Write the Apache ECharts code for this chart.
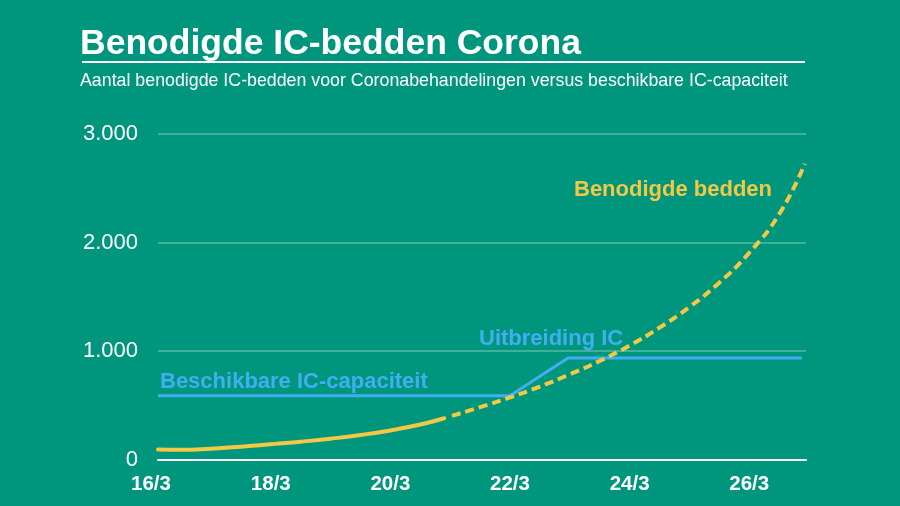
<!DOCTYPE html>
<html>
<head>
<meta charset="utf-8">
<style>
    html, body { margin: 0; padding: 0; background: #00967d; }
    #chartDiv { width: 900px; height: 506px; }
</style>
<script src="https://cdn.jsdelivr.net/npm/echarts@6/dist/echarts.min.js"></script>
</head>
<body>
<div id="chartDiv"></div>
<script>
// Chart data, x is the day of March
const FIRST_DAY = 16.114;
const LAST_DAY = 26.95;
const tickDays = [FIRST_DAY, 18, 20, 22, 24, 26];
const tickLabels = ['16/3', '18/3', '20/3', '22/3', '24/3', '26/3'];

const neededSolid = [[16.114, 92], [16.5, 90], [17, 100], [17.5, 118], [18, 140], [18.5, 164], [19, 192], [19.5, 226], [20, 268], [20.5, 322], [20.9, 380]];
const neededDashed = [[21.03, 402], [21.5, 482], [22, 572], [22.5, 672], [23, 785], [23.5, 908], [24, 1050], [24.5, 1215], [25, 1405], [25.5, 1630], [26, 1905], [26.5, 2260], [26.93, 2725]];
const capacity = [[16.114, 588], [22, 588], [22.97, 935], [26.88, 935]];

const COLORS = { bg: '#00967d', white: '#ffffff', grid: '#3fb19b', yellow: '#f2c845', blue: '#42aef2' };
const FONT = '"Liberation Sans", Arial, sans-serif';

function renderChart() {
    const myChart = echarts.init(document.getElementById('chartDiv'), null, { renderer: 'canvas' });

    const option = {
        backgroundColor: COLORS.bg,
        animation: false,
        textStyle: { fontFamily: FONT },
        title: [
            {
                text: 'Benodigde IC-bedden Corona',
                left: 80, top: 26, padding: 0,
                textStyle: { color: COLORS.white, fontSize: 35.5, fontWeight: 'bold', fontFamily: FONT }
            },
            {
                text: 'Aantal benodigde IC-bedden voor Coronabehandelingen versus beschikbare IC-capaciteit',
                left: 80, top: 72, padding: 0,
                textStyle: { color: COLORS.white, fontSize: 17.8, fontWeight: 'normal', fontFamily: FONT }
            }
        ],
        grid: { left: 158, right: 94, top: 134, bottom: 46.5 },
        xAxis: {
            type: 'value',
            min: FIRST_DAY,
            max: LAST_DAY,
            splitLine: { show: false },
            axisTick: { show: false },
            axisLine: { show: true, lineStyle: { color: COLORS.white, width: 2 } },
            axisLabel: {
                customValues: tickDays,
                margin: 14,
                color: COLORS.white,
                fontSize: 20.5,
                fontWeight: 'bold',
                fontFamily: FONT,
                hideOverlap: false,
                formatter: function (value) {
                    const label = tickLabels[tickDays.indexOf(value)];
                    return value === FIRST_DAY ? '{first|' + label + '}' : label;
                },
                rich: {
                    first: { color: COLORS.white, fontSize: 20.5, fontWeight: 'bold', fontFamily: FONT, padding: [0, 14, 0, 0] }
                }
            }
        },
        yAxis: {
            type: 'value',
            min: 0,
            max: 3000,
            interval: 1000,
            axisLine: { show: false },
            axisTick: { show: false },
            splitLine: { lineStyle: { color: COLORS.grid, width: 2 } },
            axisLabel: {
                margin: 20,
                color: COLORS.white,
                fontSize: 22,
                fontFamily: FONT,
                formatter: function (value) {
                    return value === 0 ? '0' : (value / 1000) + '.000';
                }
            }
        },
        series: [
            {
                name: 'Beschikbare IC-capaciteit',
                type: 'line',
                data: capacity,
                symbol: 'none',
                lineStyle: { color: COLORS.blue, width: 3 }
            },
            {
                name: 'Benodigde bedden',
                type: 'line',
                data: neededSolid,
                smooth: 0.5,
                symbol: 'none',
                lineStyle: { color: COLORS.yellow, width: 4, cap: 'round' }
            },
            {
                name: 'Benodigde bedden prognose',
                type: 'line',
                data: neededDashed,
                smooth: 0.5,
                symbol: 'none',
                lineStyle: { color: COLORS.yellow, width: 4, type: [9, 5] }
            }
        ],
        graphic: [
            // line under the title
            { type: 'rect', shape: { x: 82, y: 61, width: 723, height: 2 }, style: { fill: COLORS.white } },
            // labels on the lines
            { type: 'text', x: 574, y: 179, style: { text: 'Benodigde bedden', fill: COLORS.yellow, font: 'bold 22px ' + FONT } },
            { type: 'text', x: 479, y: 328, style: { text: 'Uitbreiding IC', fill: COLORS.blue, font: 'bold 22px ' + FONT } },
            { type: 'text', x: 160, y: 371, style: { text: 'Beschikbare IC-capaciteit', fill: COLORS.blue, font: 'bold 22px ' + FONT } }
        ]
    };

    myChart.setOption(option);
}

// Start
renderChart();
</script>
</body>
</html>
